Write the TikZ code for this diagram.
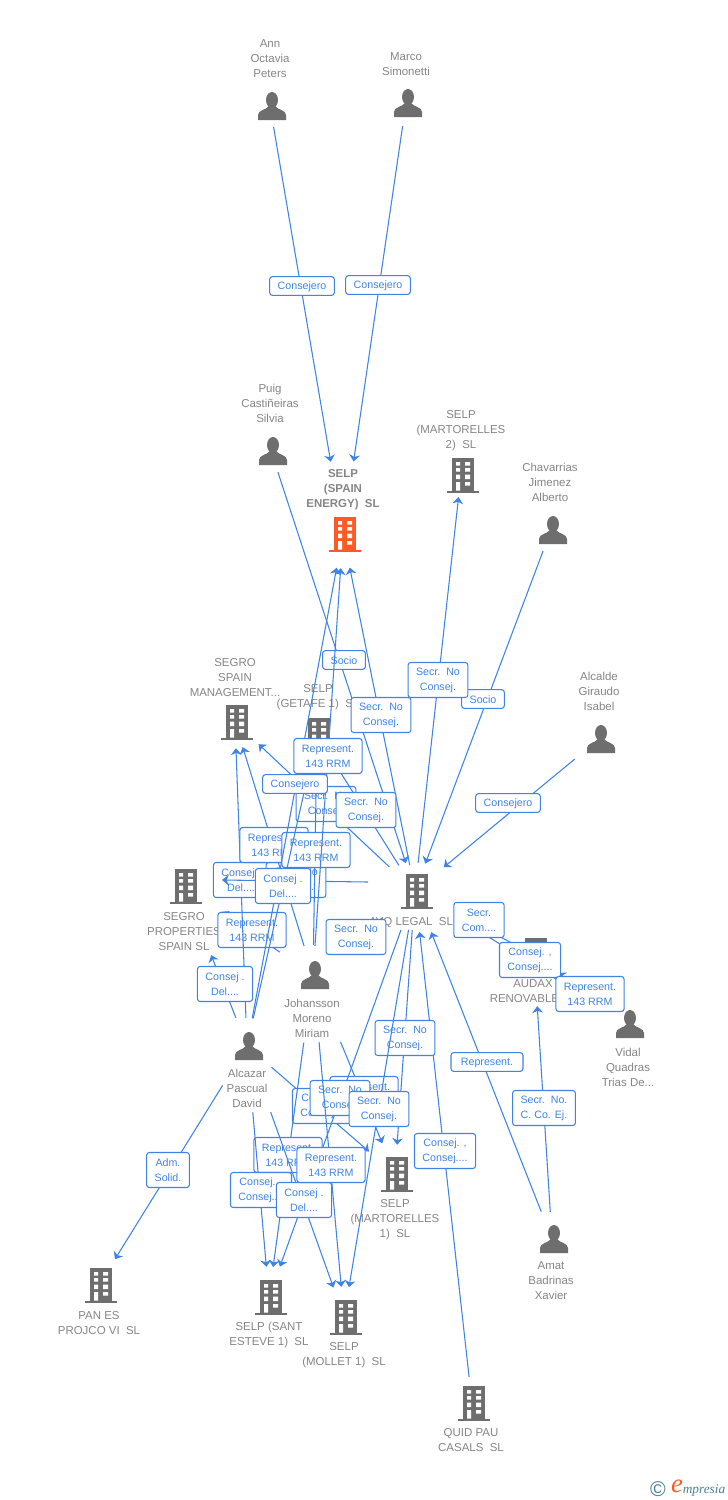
\documentclass[tikz,border=0pt]{standalone}
\usepackage{fontspec}
\setmainfont{Liberation Sans}
\newfontfamily\logofont{Liberation Serif}
\usetikzlibrary{arrows.meta}
\definecolor{relblue}{HTML}{3F84E5}
\definecolor{iconGray}{HTML}{6E6E6E}
\definecolor{nameGray}{HTML}{858585}
\definecolor{rootOrange}{HTML}{FF5A26}
\definecolor{logoTeal}{HTML}{4A7F9A}
\tikzset{
  hub/.style={inner sep=0pt,minimum size=0pt},
  nametag/.style={text=nameGray,align=center,font=\fontsize{8.6}{11.25}\selectfont,
    execute at begin node={\rule{0pt}{7.6pt}}},
  relbox/.style={draw=relblue,fill=white,text=relblue,line width=.8pt,rounded corners=2pt,
    align=center,font=\fontsize{8}{11.25}\selectfont,inner xsep=6pt,inner ysep=1pt,minimum height=26.25pt,
    execute at begin node={\rule{0pt}{7.5pt}}},
  relone/.style={relbox,minimum height=14pt},
  link/.style 2 args={draw=relblue,line width=.8pt,-{Stealth[length=5pt,width=8pt,inset=1.5pt]},
    shorten <=#1*.75pt,shorten >=#2*.75pt},
  pics/person/.style={code={
    \fill[iconGray] (2,-6) ellipse (6 and 8);
    \fill[iconGray] (-12,14) -- (-12,9) .. controls (-12,4) and (-4,4) .. (-1,0) -- (5,0)
      .. controls (8,4) and (16,4) .. (16,9) -- (16,14) -- cycle;
  }},
  pics/tower/.style={code={
    \fill[#1] (-9,-17.5) rectangle (13,16);
    \fill[#1] (-14,15.5) rectangle (18,18);
    \fill[white] (-5,-13) rectangle (-1,-9.5) (4,-13) rectangle (9,-9.5);
    \fill[white] (-5,-7) rectangle (-1,-3.5) (4,-7) rectangle (9,-3.5);
    \fill[white] (-5,-.5) rectangle (-1,4) (4,-.5) rectangle (9,4);
    \fill[white] (-5,7) rectangle (-1,15.5) (4,7) rectangle (9,10.5);
  }},
  pics/tower/.default=iconGray
}

\begin{document}
\begin{tikzpicture}[x=.75pt,y=-.75pt]
\useasboundingbox (0,0) rectangle (728,1500);

% people
\node[hub] (ann) at (270,106) {};
\pic at (ann) {person};
\node[nametag] (annname) at (270,59) {Ann\\Octavia\\Peters};
\node[hub] (marco) at (406,103) {};
\pic at (marco) {person};
\node[nametag] (marconame) at (406,64.5) {Marco\\Simonetti};
\node[hub] (puig) at (271,451) {};
\pic at (puig) {person};
\node[nametag] (puigname) at (270,403) {Puig\\Castiñeiras\\Silvia};
\node[hub] (chav) at (551,530) {};
\pic at (chav) {person};
\node[nametag] (chavname) at (550,482) {Chavarrias\\Jimenez\\Alberto};
\node[hub] (alcalde) at (599,739) {};
\pic at (alcalde) {person};
\node[nametag] (alcaldename) at (599,691) {Alcalde\\Giraudo\\Isabel};
\node[hub] (vidal) at (628,1024) {};
\pic at (vidal) {person};
\node[nametag] (vidalname) at (628,1067) {Vidal\\Quadras\\Trias De...};
\node[hub] (johansson) at (313,975) {};
\pic at (johansson) {person};
\node[nametag] (johanssonname) at (312,1018) {Johansson\\Moreno\\Miriam};
\node[hub] (alcazar) at (247,1046) {};
\pic at (alcazar) {person};
\node[nametag] (alcazarname) at (247,1088) {Alcazar\\Pascual\\David};
\node[hub] (amat) at (552,1239) {};
\pic at (amat) {person};
\node[nametag] (amatname) at (551,1281) {Amat\\Badrinas\\Xavier};

% companies
\node[hub] (spain) at (343,534) {};
\pic at (spain) {tower=rootOrange};
\node[nametag,font=\fontsize{8.6}{11.25}\selectfont\bfseries] (spainname) at (343,489.5) {SELP\\(SPAIN\\ENERGY)\ \ SL};
\node[hub] (mart2) at (461,475) {};
\pic at (mart2) {tower};
\node[nametag] (mart2name) at (461,430.5) {SELP\\(MARTORELLES\\2)\ \ SL};
\node[hub] (segrospain) at (235,722) {};
\pic at (segrospain) {tower};
\node[nametag] (segrospainname) at (235,678) {SEGRO\\SPAIN\\MANAGEMENT...};
\node[hub] (getafe) at (317,735) {};
\pic at (getafe) {tower};
\node[nametag] (getafename) at (318,697) {SELP\\(GETAFE 1)\ \ SL};
\node[hub] (segroprops) at (184,886) {};
\pic at (segroprops) {tower};
\node[nametag] (segropropsname) at (184,932) {SEGRO\\PROPERTIES\\SPAIN SL};
\node[hub] (avq) at (415,891) {};
\pic at (avq) {tower};
\node[nametag] (avqname) at (411,922) {AVQ LEGAL\ \ SL};
\node[hub] (audax) at (534,955) {};
\pic at (audax) {tower};
\node[nametag] (audaxname) at (533,991.5) {AUDAX\\RENOVABLES...};
\node[hub] (mart1) at (395,1174) {};
\pic at (mart1) {tower};
\node[nametag] (mart1name) at (395,1219.5) {SELP\\(MARTORELLES\\1)\ \ SL};
\node[hub] (steve) at (269,1297) {};
\pic at (steve) {tower};
\node[nametag] (stevename) at (269,1335) {SELP (SANT\\ESTEVE 1)\ \ SL};
\node[hub] (mollet) at (344,1317) {};
\pic at (mollet) {tower};
\node[nametag] (molletname) at (344,1355) {SELP\\(MOLLET 1)\ \ SL};
\node[hub] (pan) at (99,1285) {};
\pic at (pan) {tower};
\node[nametag] (panname) at (99,1323) {PAN ES\\PROJCO VI\ \ SL};
\node[hub] (quid) at (472,1403) {};
\pic at (quid) {tower};
\node[nametag] (quidname) at (471,1440.5) {QUID PAU\\CASALS\ \ SL};

% free ends of the nearly level line
\coordinate (avqwest) at (368,882);
\coordinate (propseast) at (222,880);

% top of the chart
\draw[link={21}{73}] (ann) -- (spain);
\node[relone] (annrel) at (302,286) {Consejero};
\draw[link={23}{73}] (marco) -- (spain);
\node[relone] (marcorel) at (378,285) {Consejero};
\draw[link={22}{29}] (puig) -- (avq);
\node[relone] (puigrel) at (344,660) {Socio};
\draw[link={22}{29}] (chav) -- (avq);
\node[relone] (chavrel) at (483,699) {Socio};
\draw[link={31}{37}] (alcalde) -- (avq);
\node[relone] (alcalderel) at (508,803) {Consejero};
\draw[link={26}{34}] (avq) -- (spain);
\node[relbox] (avqspain) at (381,715) {Secr.\ \ No\\Consej.};
\draw[link={28}{22}] (avq) -- (mart2);
\node[relbox] (avqmart2) at (438,680) {Secr.\ \ No\\Consej.};

% middle, the order sets which box lies on which
\draw[link={40}{45}] (johansson) -- (segroprops);
\node[relbox] (johprops) at (252,930) {Represent.\\143 RRM};
\draw[link={28}{26}] (alcazar) -- (segrospain);
\node[relbox] (alcsegro) at (241,880) {Consej .\\Del....};
\draw[link={0}{0}] (avqwest) -- (propseast);
\node[relbox] (avqprops) at (296,880) {Secr.\ \ No\\Consej.};
\draw[link={35}{32}] (avq) -- (segrospain);
\node[relbox] (avqsegro) at (326,804) {Secr.\ \ No\\Consej.};
\draw[link={30}{26}] (johansson) -- (segrospain);
\node[relbox] (johsegro) at (274,845) {Represent.\\143 RRM};
\draw[link={30}{30}] (johansson) -- (getafe);
\node[relbox] (johgetafe) at (316,850) {Represent.\\143 RRM};
\draw[link={30}{35}] (avq) -- (getafe);
\node[relbox] (avqgetafe) at (366,810) {Secr.\ \ No\\Consej.};
\draw[link={28}{30}] (alcazar) -- (getafe);
\draw[link={28}{34}] (alcazar) -- (spain);
\node[relbox] (alcgetafe) at (283,886) {Consej .\\Del....};
\draw[link={29}{34}] (johansson) -- (spain);
\node[relbox] (johspain) at (328,756) {Represent.\\143 RRM};
\node[relone] (alcspain) at (295,784) {Consejero};
\draw[link={30}{74}] (alcazar) -- (segroprops);
\node[relbox] (alcprops) at (225,984) {Consej .\\Del....};
\draw[link={42}{40}] (avq) -- (johansson);
\node[relbox] (avqjoh) at (356,937) {Secr.\ \ No\\Consej.};

% right hand side
\draw[link={50}{30}] (avq) -- (vidal);
\draw[link={25}{30}] (vidal) -- (audax);
\draw[link={50}{10}] (avq) -- (audax);
\node[relbox] (avqaudax) at (479,920) {Secr.\\Com....};
\node[relbox] (avqvidal) at (530,960) {Consej. ,\\Consej....};
\node[relbox] (vidalaudax) at (590,994) {Represent.\\143 RRM};
\draw[link={29}{44}] (amat) -- (avq);
\node[relone,minimum width=54pt] (amatavq) at (487,1062) {Represent.};
\draw[link={27}{51}] (amat) -- (audax);
\node[relbox] (amataudax) at (544,1108) {Secr.\ \ No.\\C. Co. Ej.};
\draw[link={26}{41}] (quid) -- (avq);
\node[relbox] (quidavq) at (445,1151) {Consej. ,\\Consej....};

% lower part
\draw[link={39}{29}] (avq) -- (mart1);
\node[relbox] (avqmart1) at (405,1038) {Secr.\ \ No\\Consej.};
\draw[link={46}{30}] (alcazar) -- (pan);
\node[relbox] (alcpan) at (168,1170) {Adm.\\Solid.};
\draw[link={32}{34}] (alcazar) -- (mart1);
\node[relbox] (alcmart1) at (323,1106) {Consej. ,\\Consej....};
\draw[link={72}{33}] (johansson) -- (mart1);
\node[relbox] (johmart1) at (364,1094) {Represent.\\143 RRM};
\draw[link={41}{32}] (avq) -- (steve);
\node[relbox] (avqsteve) at (340,1098) {Secr.\ \ No\\Consej.};
\draw[link={39}{30}] (avq) -- (mollet);
\node[relbox] (avqmollet) at (379,1109) {Secr.\ \ No\\Consej.};
\draw[link={68}{30}] (johansson) -- (steve);
\node[relbox] (johsteve) at (288,1155) {Represent.\\143 RRM};
\draw[link={66}{30}] (alcazar) -- (steve);
\node[relbox] (alcsteve) at (261,1190) {Consej. ,\\Consej....};
\draw[link={70}{31}] (alcazar) -- (mollet);
\node[relbox] (alcmollet) at (304,1200) {Consej .\\Del....};
\draw[link={67}{30}] (johansson) -- (mollet);
\node[relbox] (johmollet) at (331,1165) {Represent.\\143 RRM};

% logo
\node[text=logoTeal,font=\fontsize{16}{16}\selectfont] (logosign) at (658,1489) {\textcopyright};
\node[text=rootOrange,font=\logofont\itshape\fontsize{20}{20}\selectfont] (logoe) at (677,1486) {e};
\node[text=logoTeal,font=\logofont\itshape\fontsize{10}{10}\selectfont] (logotext) at (704,1490) {mpresia};
\end{tikzpicture}
\end{document}
